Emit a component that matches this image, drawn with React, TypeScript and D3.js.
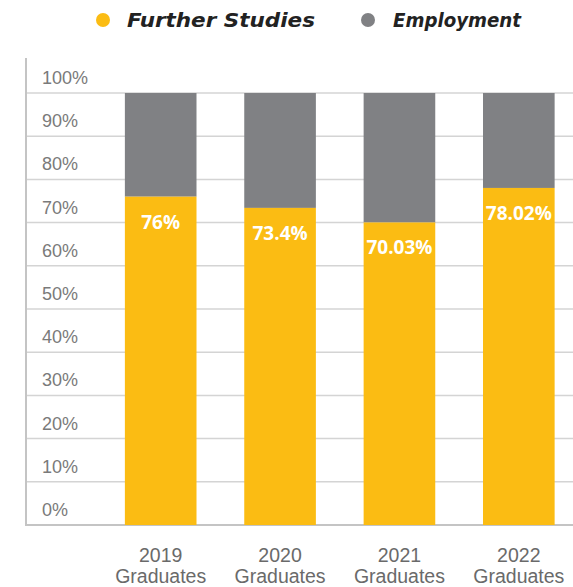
import React from "react";
import * as d3 from "d3";

const categories = ["2019", "2020", "2021", "2022"];
const categorySub = ["Graduates", "Graduates", "Graduates", "Graduates"];
const furtherStudies = [76, 73.4, 70.03, 78.02];
const furtherLabels = ["76%", "73.4%", "70.03%", "78.02%"];
const yTicks = [0, 10, 20, 30, 40, 50, 60, 70, 80, 90, 100];
const seriesNames = ["Further Studies", "Employment"];

const W = 573;
const H = 587;
const YELLOW = "#FBBC13";
const GREY = "#808184";

export default function App() {
  const x = d3
    .scaleBand<string>()
    .domain(categories)
    .range([101, 578.5])
    .paddingInner(0.4)
    .paddingOuter(0.2);
  const y = d3.scaleLinear().domain([0, 100]).range([525, 93]);
  const axisX = 26;

  return (
    <svg
      width={W}
      height={H}
      style={{ position: "absolute", left: 0, top: 0, background: "#fff" }}
    >
      {/* legend */}
      <g>
        <circle cx={103} cy={20} r={7} fill={YELLOW} />
        <text
          x={127}
          y={27}
          fontFamily="'DejaVu Sans', sans-serif"
          fontWeight={700}
          fontStyle="italic"
          fontSize={20}
          textLength={188}
          lengthAdjust="spacingAndGlyphs"
          fill="#222"
        >
          {seriesNames[0]}
        </text>
        <circle cx={368} cy={20} r={7} fill={GREY} />
        <text
          x={393}
          y={27}
          fontFamily="'DejaVu Sans', sans-serif"
          fontWeight={700}
          fontStyle="italic"
          fontSize={20}
          textLength={128}
          lengthAdjust="spacingAndGlyphs"
          fill="#222"
        >
          {seriesNames[1]}
        </text>
      </g>

      {/* gridlines */}
      {yTicks.map((t) => (
        <line
          key={"g" + t}
          x1={axisX}
          x2={W}
          y1={y(t)}
          y2={y(t)}
          stroke={t === 0 ? "#c4c4c4" : "#d4d4d4"}
          strokeWidth={t === 0 ? 2 : 1.5}
        />
      ))}
      <line x1={axisX} x2={axisX} y1={58} y2={526} stroke="#c4c4c4" strokeWidth={2} />

      {/* y tick labels */}
      {yTicks.map((t) => (
        <text
          key={"t" + t}
          x={42}
          y={y(t) - 9}
          fontFamily="'Liberation Sans', Arial, sans-serif"
          fontSize={18}
          fill="#7a7a7a"
        >
          {t + "%"}
        </text>
      ))}

      {/* bars */}
      {categories.map((c, i) => (
        <g key={c}>
          <rect
            x={x(c)}
            width={x.bandwidth()}
            y={y(100)}
            height={y(furtherStudies[i]) - y(100)}
            fill={GREY}
          />
          <rect
            x={x(c)}
            width={x.bandwidth()}
            y={y(furtherStudies[i])}
            height={y(0) - y(furtherStudies[i])}
            fill={YELLOW}
          />
          <text
            x={(x(c) as number) + x.bandwidth() / 2}
            y={y(furtherStudies[i]) + 32}
            textAnchor="middle"
            fontFamily="'Open Sans', sans-serif"
            fontWeight={700}
            fontSize={19}
            fill="#fff"
          >
            {furtherLabels[i]}
          </text>
          <text
            x={(x(c) as number) + x.bandwidth() / 2}
            y={562}
            textAnchor="middle"
            fontFamily="'Liberation Sans', Arial, sans-serif"
            fontSize={19.5}
            fill="#6a6a6a"
          >
            {c}
          </text>
          <text
            x={(x(c) as number) + x.bandwidth() / 2}
            y={583}
            textAnchor="middle"
            fontFamily="'Liberation Sans', Arial, sans-serif"
            fontSize={19.5}
            fill="#6a6a6a"
          >
            {categorySub[i]}
          </text>
        </g>
      ))}
    </svg>
  );
}
